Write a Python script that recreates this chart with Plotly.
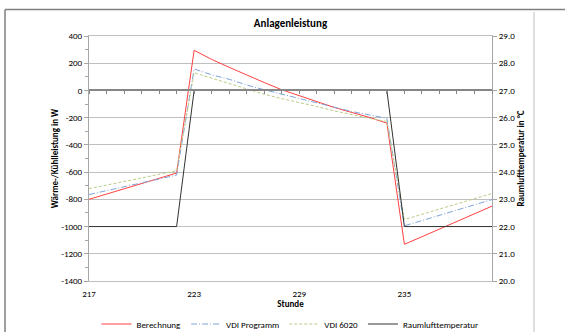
import plotly.graph_objects as go

hours = list(range(217, 241))

berechnung = [-800, -762, -724, -686, -646, -607, 295, 228, 170, 112, 58, 5,
              -38, -85, -125, -162, -198, -240, -1130, -1075, -1018, -962, -905, -850]
vdi_programm = [-765, -736, -707, -678, -650, -622, 158, 115, 82, 40, 5, -28,
                -58, -92, -125, -155, -180, -205, -995, -955, -917, -878, -840, -802]
vdi_6020 = [-722, -696, -669, -643, -617, -590, 130, 90, 48, 8, -28, -60,
            -88, -118, -150, -178, -205, -228, -948, -910, -872, -833, -795, -757]
raumluft = [22, 22, 22, 22, 22, 22, 27, 27, 27, 27, 27, 27,
            27, 27, 27, 27, 27, 27, 22, 22, 22, 22, 22, 22]

x_tickvals = [217, 223, 229, 235]
x_ticktext = ["217", "223", "229", "235"]
y_tickvals = list(range(-1400, 401, 200))
y_ticktext = ["-1400", "-1200", "-1000", "-800", "-600", "-400", "-200", "0", "200", "400"]
y2_tickvals = list(range(20, 30))
y2_ticktext = ["20.0", "21.0", "22.0", "23.0", "24.0", "25.0", "26.0", "27.0", "28.0", "29.0"]

FONT = "Carlito, Lato, sans-serif"

fig = go.Figure()
fig.add_trace(go.Scatter(x=hours, y=berechnung, name="Berechnung", mode="lines",
                         line=dict(color="#FF4040", width=1)))
fig.add_trace(go.Scatter(x=hours, y=vdi_programm, name="VDI Programm", mode="lines",
                         line=dict(color="#7EA6D9", width=1, dash="6px,2px,1px,2px")))
fig.add_trace(go.Scatter(x=hours, y=vdi_6020, name="VDI 6020", mode="lines",
                         line=dict(color="#B9CD86", width=1, dash="3px,2px")))
fig.add_trace(go.Scatter(x=hours, y=raumluft, name="Raumlufttemperatur", mode="lines",
                         xaxis="x2", yaxis="y2",
                         line=dict(color="#333333", width=1)))

L, R, T, B = 89, 492, 36, 281
W, H = 565, 332

def px(X):
    return (X - L) / (R - L)

def py(Y):
    return (B - Y) / (B - T)

shapes = [
    dict(type="line", xref="paper", yref="paper", x0=px(5), x1=px(565), y0=py(9.5), y1=py(9.5),
         line=dict(color="#7F7F7F", width=1.5)),
    dict(type="line", xref="paper", yref="paper", x0=px(5), x1=px(5), y0=py(9.5), y1=py(332),
         line=dict(color="#7F7F7F", width=1.5)),
    dict(type="line", xref="paper", yref="paper", x0=px(534), x1=px(534), y0=py(12), y1=py(332),
         line=dict(color="#BFBFBF", width=1)),
]

fig.update_layout(
    width=W, height=H,
    margin=dict(l=L, r=W - R, t=T, b=H - B, autoexpand=False),
    paper_bgcolor="white", plot_bgcolor="white",
    font=dict(family=FONT, size=9, color="#000000"),
    title=dict(text="<b>Anlagenleistung</b>", x=px(290.5), xref="paper", xanchor="center",
               y=1 - 23 / H, yref="container", yanchor="middle",
               font=dict(family=FONT, size=11, color="#000000")),
    showlegend=True,
    legend=dict(orientation="h", x=(290 / W), xref="container", xanchor="center",
                y=1 - 324 / H, yref="container", yanchor="middle",
                font=dict(family=FONT, size=9), itemwidth=30, bgcolor="rgba(0,0,0,0)",
                tracegroupgap=0),
    shapes=shapes,
    xaxis=dict(range=[217, 240], tickmode="array", tickvals=x_tickvals, ticktext=x_ticktext,
               showgrid=False, zeroline=False, showline=True, mirror=True,
               linecolor="#BFBFBF", linewidth=1, ticks="", ticklabelstandoff=4,
               title=dict(text="<b>Stunde</b>", standoff=6, font=dict(family=FONT, size=9))),
    xaxis2=dict(range=[217, 240], overlaying="x", anchor="free", position=1400 / 1800,
                side="bottom", showline=True, linecolor="#868686", linewidth=1.5,
                tickmode="linear", tick0=217, dtick=1, ticks="outside", ticklen=3,
                tickcolor="#868686", showticklabels=False, showgrid=False, zeroline=False),
    yaxis=dict(range=[-1400, 400], tickmode="array", tickvals=y_tickvals, ticktext=y_ticktext,
               showgrid=True, gridcolor="#BFBFBF", gridwidth=1, zeroline=False,
               showline=True, linecolor="#A6A6A6", linewidth=1,
               ticks="outside", ticklen=4, tickcolor="#A6A6A6",
               minor=dict(tickmode="linear", tick0=0, dtick=100, ticks="outside", ticklen=3,
                          tickcolor="#A6A6A6", showgrid=False),
               title=dict(text="<b>Wärme-/Kühlleistung in W</b>", standoff=1,
                          font=dict(family=FONT, size=9))),
    yaxis2=dict(range=[20, 29], overlaying="y", anchor="x", side="right",
                tickmode="array", tickvals=y2_tickvals, ticktext=y2_ticktext,
                showgrid=False, zeroline=False, showline=True, linecolor="#A6A6A6",
                linewidth=1, ticks="outside", ticklen=4, tickcolor="#A6A6A6",
                title=dict(text="<b>Raumlufttemperatur in °C</b>", standoff=2,
                           font=dict(family=FONT, size=9))),
)

fig.write_html("out.html")
